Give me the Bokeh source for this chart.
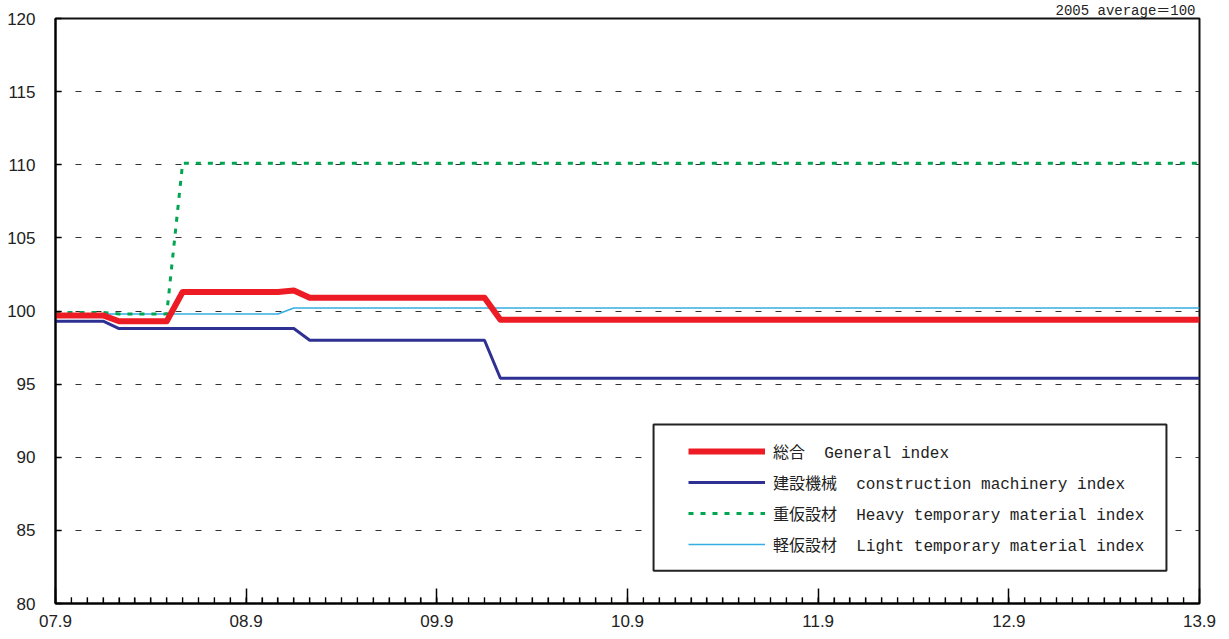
from bokeh.plotting import figure
from bokeh.models import (Range1d, FixedTicker, Legend, LegendItem, BoxAnnotation)
from bokeh.embed import file_html
from bokeh.resources import INLINE

# ---- data (monthly, 07.9 .. 13.9) ----
months = list(range(73))
x_tick_pos = [0, 12, 24, 36, 48, 60, 72]
x_tick_labels = ["07.9", "08.9", "09.9", "10.9", "11.9", "12.9", "13.9"]
y_ticks = [80, 85, 90, 95, 100, 105, 110, 115, 120]

general = [99.7] * 4 + [99.3] * 4 + [101.3] * 7 + [101.4] + [100.9] * 12 + [99.4] * 45
construction = [99.3] * 4 + [98.8] * 12 + [98.0] * 12 + [95.4] * 45
heavy = [99.9] * 4 + [99.8] * 4 + [110.1] * 65
light = [99.8] * 15 + [100.2] * 58

labels = ["総合  General index",
          "建設機械  construction machinery index",
          "重仮設材  Heavy temporary material index",
          "軽仮設材  Light temporary material index"]
note = "2005 average＝100"

TICK_FONT = "Liberation Sans Narrow, Liberation Sans"
TEXT_FONT = "Liberation Mono, Noto Sans CJK JP"

Y0, Y1 = 80, 120
FRAME_H = 586  # px
MINOR_TICK_PX = 6

# ---- figure ----
p = figure(width=1229, height=639, output_backend="svg", toolbar_location=None,
           x_range=Range1d(0, 72), y_range=Range1d(Y0, Y1),
           min_border_left=55, min_border_right=30, min_border_top=17, min_border_bottom=36,
           background_fill_color="white", border_fill_color="white")
p.outline_line_color = "#111111"
p.outline_line_width = 2

p.title.text = note
p.title.align = "right"
p.title.text_font = TEXT_FONT
p.title.text_font_size = "14px"
p.title.text_font_style = "normal"
p.title.text_color = "#222222"
p.title.standoff = 0
p.title.offset = 4

p.xgrid.grid_line_color = None
p.ygrid.ticker = FixedTicker(ticks=y_ticks)
p.ygrid.grid_line_color = "#333333"
p.ygrid.grid_line_dash = "6 14"
p.ygrid.grid_line_width = 1

xa = p.xaxis[0]
xa.ticker = FixedTicker(ticks=x_tick_pos, minor_ticks=months)
xa.major_label_overrides = {k: v for k, v in zip(x_tick_pos, x_tick_labels)}
xa.major_tick_in = 15
xa.major_tick_out = 0
xa.minor_tick_in = 6
xa.minor_tick_out = 0
xa.axis_line_width = 2
xa.axis_line_color = "black"
xa.major_tick_line_color = "black"
xa.minor_tick_line_color = "black"
xa.major_tick_line_width = 1.5
xa.minor_tick_line_width = 1.2
xa.major_label_standoff = 11
xa.major_label_text_font = TICK_FONT
xa.major_label_text_font_size = "17px"
xa.major_label_text_color = "#222222"

ya = p.yaxis[0]
ya.ticker = FixedTicker(ticks=y_ticks)
ya.major_tick_in = 6
ya.major_tick_out = 0
ya.minor_tick_line_color = None
ya.axis_line_width = 2
ya.axis_line_color = "black"
ya.major_tick_line_color = "black"
ya.major_tick_line_width = 1.5
ya.major_label_standoff = 20
ya.major_label_text_font = TICK_FONT
ya.major_label_text_font_size = "17px"
ya.major_label_text_color = "#222222"

# monthly tick marks on the bottom edge
tick_len = MINOR_TICK_PX * (Y1 - Y0) / FRAME_H
p.segment(x0=months, y0=[Y0] * len(months), x1=months, y1=[Y0 + tick_len] * len(months),
          line_color="black", line_width=1.2)

# ---- lines ----
r_light = p.line(months, light, line_color="#35AEE4", line_width=1.5)
r_heavy = p.line(months, heavy, line_color="#00A651", line_width=3, line_dash="5 7")
r_con = p.line(months, construction, line_color="#2E3192", line_width=3)
r_gen = p.line(months, general, line_color="#ED1C24", line_width=6, line_join="round")

# ---- legend box + legend ----
box = BoxAnnotation(left=37.64, right=69.92, bottom=82.245, top=92.245,
                    fill_color="white", fill_alpha=1.0,
                    line_color="#222222", line_alpha=1.0, line_width=2)
p.add_layout(box)

legend = Legend(items=[LegendItem(label=labels[0], renderers=[r_gen]),
                       LegendItem(label=labels[1], renderers=[r_con]),
                       LegendItem(label=labels[2], renderers=[r_heavy]),
                       LegendItem(label=labels[3], renderers=[r_light])],
                location=(633, 47), padding=0, margin=0, spacing=7,
                glyph_width=77, glyph_height=20, label_height=20, label_standoff=8,
                label_text_font=TEXT_FONT,
                label_text_font_size="16px", label_text_color="#222222",
                border_line_alpha=0, background_fill_alpha=0)
p.add_layout(legend, "center")

open("out.html", "w").write(file_html(p, INLINE))
